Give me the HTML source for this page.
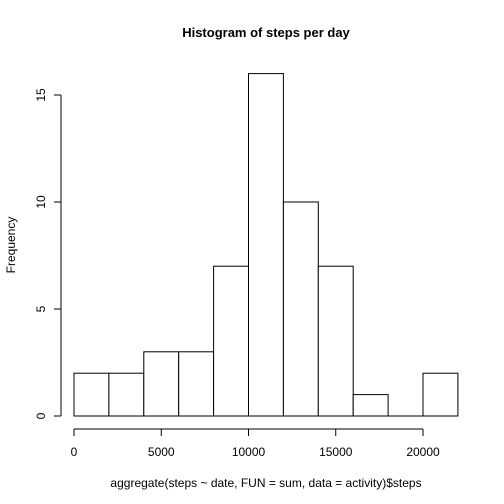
<!DOCTYPE html>
<html><head><meta charset="utf-8"><style>body{margin:0;background:#fff}svg{display:block;font-family:"Liberation Sans",Arial,sans-serif}</style></head>
<body>
<svg id="chart" width="504" height="504">
<rect width="504" height="504" fill="#fff"/>
<text x="266" y="37" text-anchor="middle" font-weight="bold" font-size="13">Histogram of steps per day</text>
<text x="266" y="487" text-anchor="middle" font-size="12">aggregate(steps ~ date, FUN = sum, data = activity)$steps</text>
<text transform="translate(15,245) rotate(-90)" text-anchor="middle" font-size="12">Frequency</text>
<g id="bars"></g><g id="axes"></g>
</svg>
<script>
const binEdges=[0,2000,4000,6000,8000,10000,12000,14000,16000,18000,20000,22000];
const counts=[2,2,3,3,7,16,10,7,1,0,2];
const xTicks=[0,5000,10000,15000,20000];
const yTicks=[0,5,10,15];
const NS="http://www.w3.org/2000/svg";
const sx=v=>74+v*(423-74)/20000;
const sy=v=>416-v*(416-95)/15;
const bars=document.getElementById('bars'),axes=document.getElementById('axes');
function mk(tag,attrs,parent){const e=document.createElementNS(NS,tag);for(const k in attrs)e.setAttribute(k,attrs[k]);parent.appendChild(e);return e;}
counts.forEach((c,i)=>{
 if(c===0){
  const l=mk('line',{x1:sx(binEdges[i]),x2:sx(binEdges[i+1]),y1:sy(0),y2:sy(0),stroke:'#000'},bars);
  
  
  return;
 }
 const r=mk('rect',{x:sx(binEdges[i]),y:sy(c),width:sx(binEdges[i+1])-sx(binEdges[i]),height:sy(0)-sy(c),fill:'#fff',stroke:'#000','stroke-width':1},bars);
 
 
});
const xl=mk('line',{x1:sx(xTicks[0]),x2:sx(xTicks[xTicks.length-1]),y1:429,y2:429,stroke:'#000'},axes);


xTicks.forEach(t=>{
 mk('line',{x1:sx(t),x2:sx(t),y1:429,y2:436,stroke:'#000'},axes);
 const tx=mk('text',{x:sx(t),y:456,'text-anchor':'middle','font-size':12},axes);
 tx.textContent=t;
 
 
});
const yl=mk('line',{x1:61,x2:61,y1:sy(yTicks[0]),y2:sy(yTicks[yTicks.length-1]),stroke:'#000'},axes);


yTicks.forEach(t=>{
 mk('line',{x1:54,x2:61,y1:sy(t),y2:sy(t),stroke:'#000'},axes);
 const tx=mk('text',{transform:`translate(45,${sy(t)}) rotate(-90)`,'text-anchor':'middle','font-size':12},axes);
 tx.textContent=t;
 
 
});
</script>
</body></html>
